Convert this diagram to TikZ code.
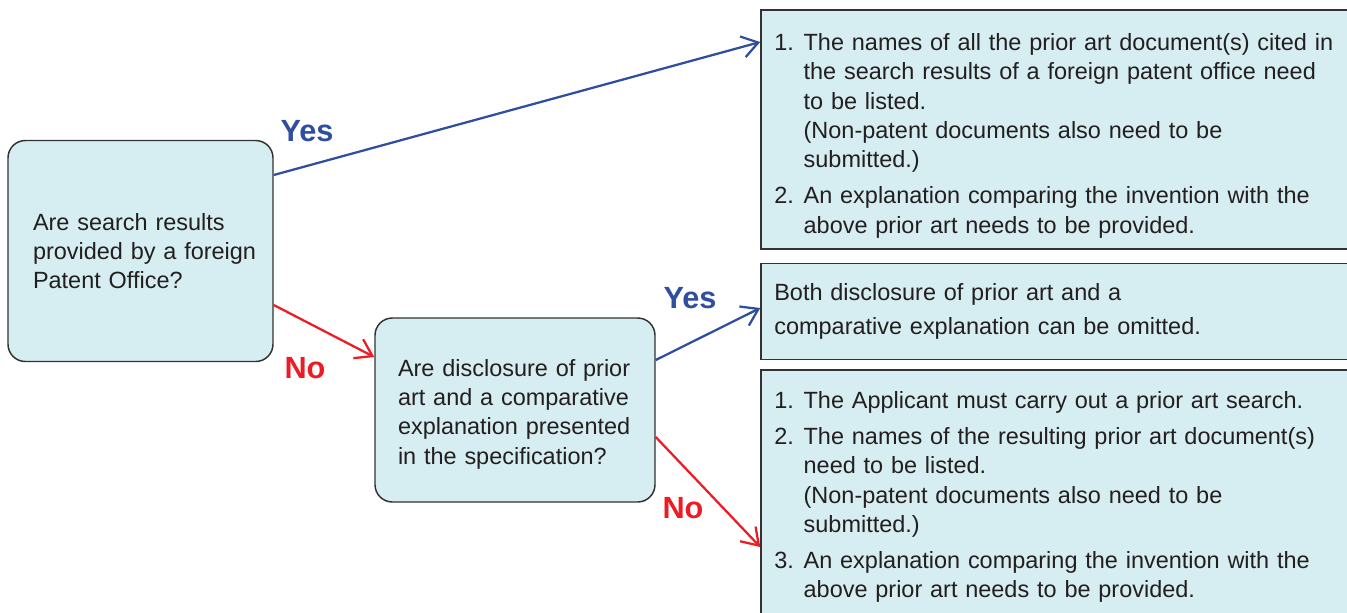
\documentclass[tikz,border=0pt]{standalone}
\usepackage{fontspec}
\setmainfont{Liberation Sans}
\usetikzlibrary{arrows.meta,calc}

\definecolor{boxfill}{RGB}{214,237,241}
\definecolor{boxline}{RGB}{50,50,50}
\definecolor{txtgray}{RGB}{35,31,32}
\definecolor{yesblue}{RGB}{48,78,160}
\definecolor{nored}{RGB}{237,28,36}

\newcommand{\numlbl}[1]{\makebox[22pt][l]{#1}}
\newcommand{\contline}{\hspace*{22pt}}

\tikzset{every picture/.style={line width=0.75pt}}
\tikzset{
  qbox/.style={draw=boxline, fill=boxfill, line width=1.1pt, rounded corners=13pt, inner xsep=0pt,
    align=left, text=txtgray, font=\fontsize{17.6}{22}\selectfont},
  abox/.style={draw=boxline, fill=boxfill, line width=1.1pt, inner xsep=0pt,
    align=left, text=txtgray, font=\fontsize{17.6}{22}\selectfont},
  lmargin/.style={execute at begin node={\leftskip=#1}},
  yesarr/.style={draw=yesblue, line width=1.7pt, -{Straight Barb[length=12pt,width=16pt]}},
  noarr/.style={draw=nored, line width=1.7pt, -{Straight Barb[length=12pt,width=16pt]}},
  yeslbl/.style={text=yesblue, inner sep=0pt, font=\bfseries\fontsize{23}{23}\selectfont},
  nolbl/.style={text=nored, inner sep=0pt, font=\bfseries\fontsize{23}{23}\selectfont}
}

\begin{document}
\begin{tikzpicture}[x=0.75pt,y=0.75pt,yscale=-1,xscale=1]
\useasboundingbox (0,0) rectangle (1347,612);
\clip (0,0) rectangle (1347,612);

% Question 1
\node[qbox, minimum width=198.75pt, minimum height=165.75pt, text width=198.75pt, lmargin=18.75pt] (qa) at (140.5,251)
  {Are search results\\provided by a foreign\\Patent Office?};
% Question 2
\node[qbox, minimum width=210pt, minimum height=138pt, text width=210pt, lmargin=17.25pt, text height=19pt] (qb) at (515,410)
  {Are disclosure of prior\\art and a comparative\\explanation presented\\in the specification?};

% Answer boxes
\node[abox, minimum width=453pt, minimum height=179.25pt, text width=453pt, lmargin=10pt, text height=22pt] (ra) at (1063,129.5)
  {\numlbl{1.}The names of all the prior art document(s) cited in\\
   \contline the search results of a foreign patent office need\\
   \contline to be listed.\\
   \contline (Non-patent documents also need to be\\
   \contline submitted.)\\[5pt]
   \numlbl{2.}An explanation comparing the invention with the\\
   \contline above prior art needs to be provided.};
\node[abox, minimum width=453pt, minimum height=72pt, text width=453pt, lmargin=10pt] (rb) at (1063,311.5)
  {Both disclosure of prior art and a\\[3.5pt]
   comparative explanation can be omitted.};
\node[abox, minimum width=453pt, minimum height=190.5pt, text width=453pt, lmargin=10pt] (rc) at (1063,497)
  {\numlbl{1.}The Applicant must carry out a prior art search.\\[5pt]
   \numlbl{2.}The names of the resulting prior art document(s)\\
   \contline need to be listed.\\
   \contline (Non-patent documents also need to be\\
   \contline submitted.)\\[5pt]
   \numlbl{3.}An explanation comparing the invention with the\\
   \contline above prior art needs to be provided.};

% Connection
\draw[yesarr] ($(qa.east)+(0,-76)$) -- ($(ra.west)+(0,-87.5)$);
\draw[noarr] ($(qa.east)+(0,54)$) -- ($(qb.west)+(0,-53)$);
\draw[yesarr] ($(qb.east)+(0,-50)$) -- ($(rb.west)+(0,-3.5)$);
\draw[noarr] ($(qb.east)+(0,27)$) -- ($(rc.west)+(0,50)$);

% Labels
\node[yeslbl] (yesa) at (307,131) {Yes};
\node[nolbl] (noa) at (305,368) {No};
\node[yeslbl] (yesb) at (690,298) {Yes};
\node[nolbl] (nob) at (683,508) {No};

\end{tikzpicture}
\end{document}
